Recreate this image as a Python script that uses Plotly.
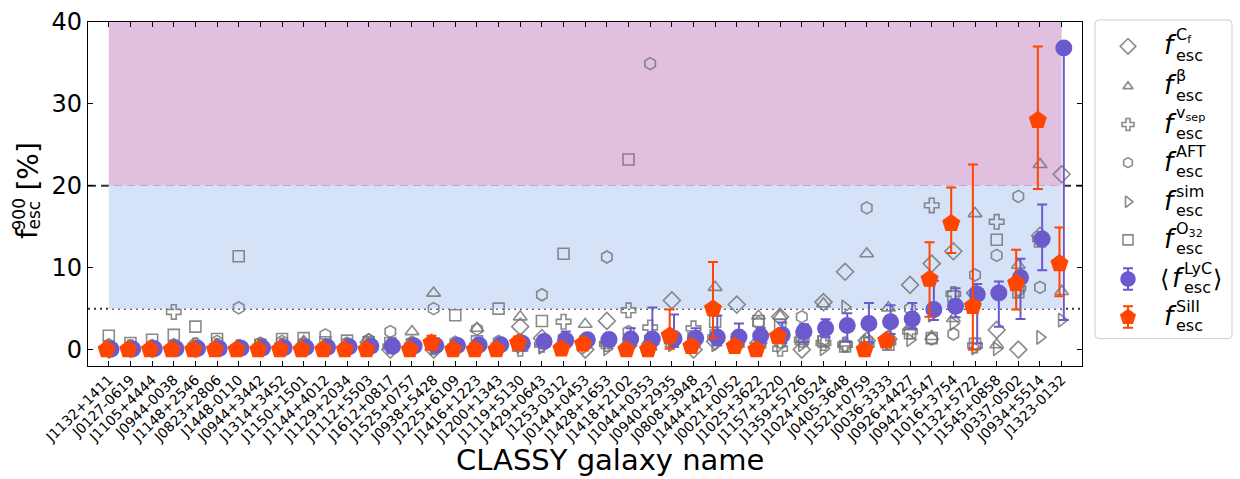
import plotly.graph_objects as go

names = ["J1132+1411","J0127-0619","J1105+4444","J0944-0038","J1148+2546","J0823+2806","J1448-0110",
         "J0944+3442","J1314+3452","J1150+1501","J1144+4012","J1129+2034","J1112+5503","J1612+0817",
         "J1525+0757","J0938+5428","J1225+6109","J1416+1223","J1200+1343","J1119+5130","J1429+0643",
         "J1253-0312","J0144+0453","J1428+1653","J1418+2102","J1044+0353","J0940+2935","J0808+3948",
         "J1444+4237","J0021+0052","J1025+3622","J1157+3220","J1359+5726","J1024+0524","J0405-3648",
         "J1521+0759","J0036-3333","J0926+4427","J0942+3547","J1016+3754","J1132+5722","J1545+0858",
         "J0337-0502","J0934+5514","J1323-0132"]

f_Cf = [0.0,0.1,0.1,0.2,0.1,0.3,0.2,0.2,0.3,0.2,0.3,0.3,0.9,0.0,0.4,0.0,0.3,0.3,0.4,2.8,1.4,0.6,0.0,3.5,0.5,
        0.7,6.0,0.0,1.0,5.5,0.8,4.0,0.0,5.8,9.5,1.1,1.3,7.9,10.5,12.0,6.9,2.4,0.0,13.9,21.4]
f_beta = [0.3,0.2,0.3,0.5,0.4,0.6,0.4,0.5,0.6,1.0,0.6,0.5,0.7,0.8,2.2,6.9,0.6,2.6,0.8,4.0,0.9,1.0,3.1,1.1,1.0,
          1.2,0.7,1.2,7.6,1.0,4.1,4.1,1.0,5.6,0.8,11.7,5.1,2.8,1.6,3.8,16.6,0.6,10.3,22.6,7.1]
f_vsep = [0.2,0.3,0.2,4.6,0.5,0.4,0.3,0.4,0.5,0.4,0.4,0.4,0.5,0.4,0.5,0.3,0.4,0.5,0.5,0.1,0.6,3.4,0.8,0.7,4.8,
          2.7,1.0,2.6,1.5,0.6,0.5,0.1,1.2,0.8,0.6,0.6,0.9,2.2,17.6,6.8,0.5,15.6,7.5,13.5,None]
f_AFT = [0.6,0.4,0.5,0.6,0.7,1.0,5.1,0.8,1.0,0.8,1.8,0.8,1.2,2.2,0.9,5.0,0.9,2.5,1.0,1.2,6.7,1.4,1.3,11.3,2.2,
         34.9,1.8,1.0,2.0,1.5,3.3,0.9,4.0,1.2,0.5,17.3,1.5,5.0,1.3,1.9,9.1,11.5,18.7,7.6,None]
f_sim = [0.1,0.2,0.1,0.2,0.2,0.2,0.1,0.2,0.2,0.2,0.2,0.2,0.3,0.3,0.3,0.2,0.2,0.3,0.3,0.4,0.3,0.4,0.3,0.1,0.4,
         0.5,0.6,0.4,0.6,0.8,0.4,0.5,0.6,0.1,5.2,1.0,0.8,1.2,4.2,3.2,0.2,0.1,7.0,1.5,3.6]
f_O32 = [1.7,0.8,1.2,1.8,2.8,1.3,11.4,0.6,1.3,1.4,0.9,1.1,0.9,0.8,0.6,0.7,4.2,1.0,5.0,0.8,3.5,11.7,0.9,0.8,23.2,
         1.0,1.5,1.4,3.4,0.9,3.5,3.0,1.6,1.0,0.4,0.8,0.6,2.0,1.4,6.5,0.7,13.4,7.0,13.2,None]

lyc = [0.05,0.08,0.1,0.12,0.14,0.15,0.17,0.2,0.22,0.25,0.3,0.35,0.4,0.42,0.45,0.5,0.5,0.55,0.6,0.75,1.0,1.15,
       1.2,1.22,1.3,1.3,1.35,1.4,1.5,1.55,1.65,1.8,2.2,2.6,2.95,3.2,3.4,3.75,4.9,5.3,6.75,6.9,8.8,13.5,36.8]
lyc_up = [0.3]*21 + [1.05,0.6,0.5,1.3,3.85,2.95,1.2,2.65,1.65,1.0,1.5,0.9,1.1,1.5,2.5,2.0,1.95,3.5,2.2,1.25,
                     1.4,2.3,4.2,0.0]
lyc_dn = [0.05,0.08,0.1,0.12,0.14,0.15,0.17,0.2,0.22,0.25,0.3,0.3,0.3,0.3,0.3,0.3,0.3,0.3,0.3,0.3,0.3,
          0.8,0.6,0.6,0.9,1.3,1.0,0.9,1.0,1.0,0.9,1.0,1.3,1.1,2.0,2.3,1.5,1.2,1.3,1.35,6.0,4.1,5.05,3.8,33.2]

siii = [0,0,0,0,0,0,0,0,0,0,0,0,0,None,0,0.8,0,0,0,0.8,None,0.1,0.7,None,0.0,0.0,1.7,0.4,5.0,0.4,0.0,1.6,
        None,None,None,0.0,1.1,None,8.6,15.4,5.3,None,8.1,28.0,10.5]
siii_up = [0]*15 + [0.9,0,0,0,0.8] + [0]*6 + [3.2,0,5.7] + [0]*9 + [4.5,4.4,17.3,0,4.1,9.0,4.4]
siii_dn = [0]*15 + [0.8,0,0,0,0.8] + [0]*6 + [1.6,0,3.6] + [0]*9 + [4.6,3.6,5.3,0,3.2,8.4,4.0]

yticks = [0, 10, 20, 30, 40]

W, H = 1240, 479
L, R, T, B = 88, 2, 8, 113
PW, PH = W - L - R, H - T - B
def pxx(x): return (x - L) / PW
def pyy(y): return (H - B - y) / PH

PURPLE = "#6a5acd"
ORANGE = "#ff4500"
GRAY = "rgba(118,118,118,0.85)"
FONT = "DejaVu Sans"

fig = go.Figure()
idx = list(range(len(names)))

gray_series = [(f_Cf, "diamond-open", 13), (f_beta, "triangle-up-open", 12), (f_vsep, "cross-open", 12),
               (f_AFT, "hexagon-open", 12), (f_sim, "triangle-right-open", 12), (f_O32, "square-open", 11)]
for vals, sym, size in gray_series:
    fig.add_trace(go.Scatter(x=idx, y=vals, mode="markers", showlegend=False,
                             marker=dict(symbol=sym, size=size, color=GRAY, line=dict(width=1.6, color=GRAY))))

fig.add_trace(go.Scatter(x=[i + 0.1 for i in idx], y=lyc, mode="markers", showlegend=False,
                         marker=dict(symbol="circle", size=17, color=PURPLE),
                         error_y=dict(type="data", symmetric=False, array=lyc_up, arrayminus=lyc_dn,
                                      color=PURPLE, thickness=2, width=5)))
fig.add_trace(go.Scatter(x=[i - 0.1 for i in idx], y=siii, mode="markers", showlegend=False,
                         marker=dict(symbol="pentagon", size=19, color=ORANGE),
                         error_y=dict(type="data", symmetric=False, array=siii_up, arrayminus=siii_dn,
                                      color=ORANGE, thickness=2, width=5)))

# shaded regions and reference lines
fig.add_shape(type="rect", xref="x", yref="y", x0=0, x1=len(names) - 1, y0=20, y1=40,
              fillcolor="#e0bfdf", line=dict(width=0), layer="below")
fig.add_shape(type="rect", xref="x", yref="y", x0=0, x1=len(names) - 1, y0=5, y1=20,
              fillcolor="#d6e2f7", line=dict(width=0), layer="below")
fig.add_shape(type="line", xref="x domain", yref="y", x0=0, x1=1, y0=20, y1=20,
              line=dict(color="#333333", width=2, dash="8px,5px"), layer="below")
fig.add_shape(type="line", xref="x domain", yref="y", x0=0, x1=1, y0=5, y1=5,
              line=dict(color="#333333", width=2, dash="2px,4px"), layer="below")

axis_common = dict(showline=True, linecolor="black", linewidth=1.3, mirror="allticks", ticks="inside",
                   ticklen=5, tickcolor="black", showgrid=False, zeroline=False)
fig.update_layout(
    width=W, height=H, autosize=False, margin=dict(l=L, r=R, t=T, b=B),
    plot_bgcolor="white", paper_bgcolor="white", font=dict(family=FONT, color="black"),
    xaxis=dict(domain=[0, pxx(1082)], range=[-0.96, 44.94], tickvals=idx, ticktext=names, tickangle=-45,
               tickfont=dict(size=14), ticklabelstandoff=-1, **axis_common),
    yaxis=dict(domain=[0, pyy(14)], range=[-2, 40], tickvals=yticks, tickfont=dict(size=24), **axis_common),
    xaxis2=dict(domain=[pxx(1090), 1.0], range=[1090, 1238], visible=False, anchor="y2", fixedrange=True),
    yaxis2=dict(domain=[pyy(345), 1.0], range=[345, 8], visible=False, anchor="x2", fixedrange=True),
)

# legend box (pixel coordinates on the auxiliary axes)
x0b, x1b, y0b, y1b, r = 1095, 1232, 12, 338, 4
path = (f"M {x0b+r},{y0b} L {x1b-r},{y0b} Q {x1b},{y0b} {x1b},{y0b+r} L {x1b},{y1b-r} Q {x1b},{y1b} {x1b-r},{y1b} "
        f"L {x0b+r},{y1b} Q {x0b},{y1b} {x0b},{y1b-r} L {x0b},{y0b+r} Q {x0b},{y0b} {x0b+r},{y0b} Z")
fig.add_shape(type="path", xref="x2", yref="y2", path=path, fillcolor="white",
              line=dict(color="#cccccc", width=1), layer="below")

leg_y = [39, 80, 119, 158, 198, 237, 277, 316]
leg_items = [("diamond-open", 12, GRAY, "C<sub>f</sub>"), ("triangle-up-open", 9, GRAY, "β"),
             ("cross-open", 10, GRAY, "v<sub>sep</sub>"), ("hexagon-open", 10, GRAY, "AFT"),
             ("triangle-right-open", 10, GRAY, "sim"), ("square-open", 10, GRAY, "O<sub>32</sub>"),
             ("circle", 14, PURPLE, "LyC"), ("pentagon", 15, ORANGE, "SiII")]
for (sym, size, col, sup), yy in zip(leg_items, leg_y):
    err = None
    if col != GRAY:
        err = dict(type="data", array=[11], color=col, thickness=2, width=5)
    fig.add_trace(go.Scatter(x=[1128], y=[yy], xaxis="x2", yaxis="y2", mode="markers", showlegend=False,
                             marker=dict(symbol=sym, size=size, color=col, line=dict(width=1.6, color=col)),
                             error_y=err, hoverinfo="skip"))
    fx = 1170
    if sup == "LyC":
        fig.add_annotation(x=1164, y=yy, xref="x2", yref="y2", text="⟨", showarrow=False,
                           xanchor="center", yanchor="middle", font=dict(size=24, family=FONT))
        fx = 1178
    fig.add_annotation(x=fx, y=yy - 1, xref="x2", yref="y2", text="<i>f</i>", showarrow=False,
                       xanchor="center", yanchor="middle", font=dict(size=26, family=FONT))
    fig.add_annotation(x=fx + 4, y=yy - 11, xref="x2", yref="y2", text=sup, showarrow=False,
                       xanchor="left", yanchor="middle", font=dict(size=16, family=FONT))
    fig.add_annotation(x=fx + 4, y=yy + 9, xref="x2", yref="y2", text="esc", showarrow=False,
                       xanchor="left", yanchor="middle", font=dict(size=16, family=FONT))
    if sup == "LyC":
        fig.add_annotation(x=1217, y=yy, xref="x2", yref="y2", text="⟩", showarrow=False,
                           xanchor="center", yanchor="middle", font=dict(size=24, family=FONT))

# axis titles
fig.add_annotation(x=pxx(610), y=pyy(462), xref="paper", yref="paper", text="CLASSY galaxy name",
                   showarrow=False, xanchor="center", yanchor="middle", font=dict(size=29, family=FONT))
fig.add_annotation(x=pxx(27), y=pyy(231), xref="paper", yref="paper", text="f", textangle=-90,
                   showarrow=False, xanchor="center", yanchor="middle", font=dict(size=28, family=FONT))
fig.add_annotation(x=pxx(19), y=pyy(211), xref="paper", yref="paper", text="900", textangle=-90,
                   showarrow=False, xanchor="center", yanchor="middle", font=dict(size=17, family=FONT))
fig.add_annotation(x=pxx(34), y=pyy(212), xref="paper", yref="paper", text="esc", textangle=-90,
                   showarrow=False, xanchor="center", yanchor="middle", font=dict(size=17, family=FONT))
fig.add_annotation(x=pxx(29), y=pyy(162), xref="paper", yref="paper", text="[%]", textangle=-90,
                   showarrow=False, xanchor="center", yanchor="middle", font=dict(size=28, family=FONT))

fig.write_html("out.html")
